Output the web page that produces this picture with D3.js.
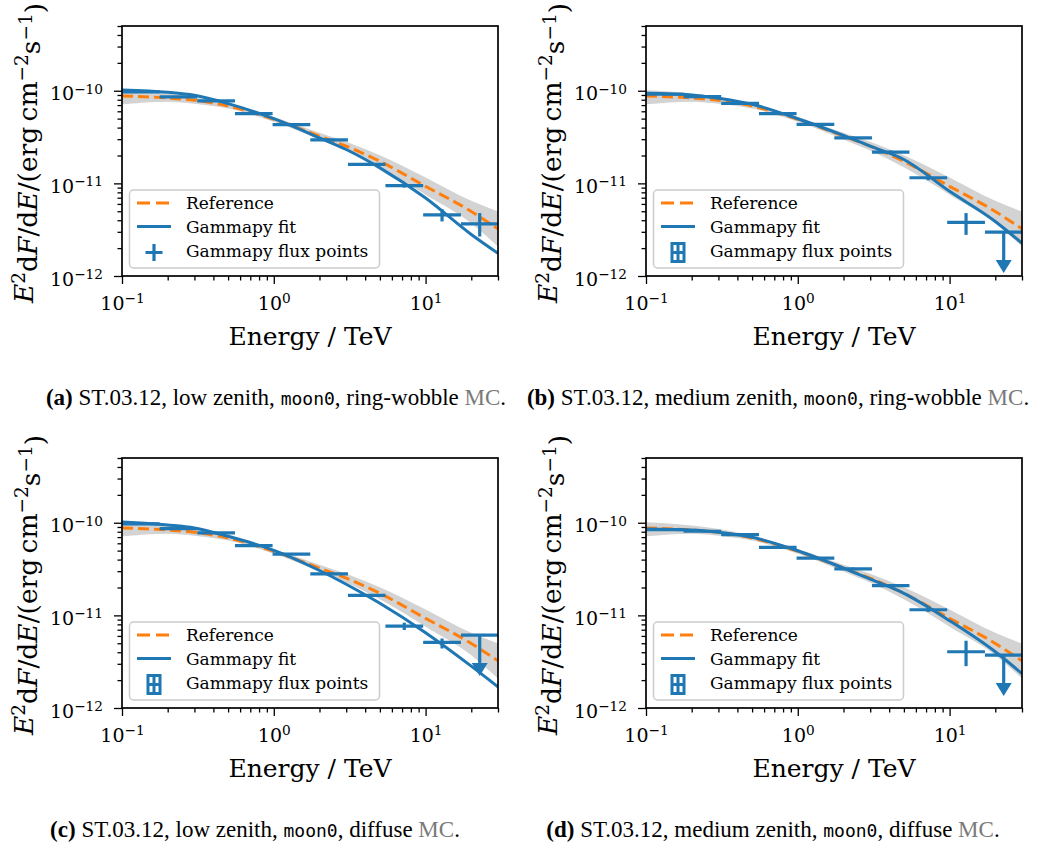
<!DOCTYPE html>
<html>
<head>
<meta charset="utf-8">
<script src="https://cdn.jsdelivr.net/npm/d3@7"></script>
<style>
  body { margin: 0; background: #fff; }
  svg text { font-family: "DejaVu Serif", serif; fill: #000; }
</style>
</head>
<body>
<div id="figure"></div>
<script>
const energyGrid = [0.1, 0.2, 0.3, 0.5, 1, 2, 3, 5, 10, 20, 30];

// Reference spectrum and its uncertainty band (same in every panel)
const referenceFlux   = [8.79e-11, 8.36e-11, 7.89e-11, 6.84e-11, 4.91e-11, 3.24e-11, 2.52e-11, 1.73e-11, 9.29e-12, 4.98e-12, 3.23e-12];
const referenceBandHi = [1.01e-10, 9.32e-11, 8.57e-11, 7.26e-11, 5.20e-11, 3.52e-11, 2.81e-11, 2.01e-11, 1.16e-11, 6.50e-12, 4.98e-12];
const referenceBandLo = [7.14e-11, 7.62e-11, 7.26e-11, 6.45e-11, 4.63e-11, 2.98e-11, 2.26e-11, 1.49e-11, 7.55e-12, 3.72e-12, 2.08e-12];

// Gammapy fits, one per panel
const fitFluxA = [1.02e-10, 9.63e-11, 8.93e-11, 7.26e-11, 4.99e-11, 3.10e-11, 2.32e-11, 1.47e-11, 6.95e-12, 2.81e-12, 1.76e-12];
const fitFluxB = [9.39e-11, 9.02e-11, 8.30e-11, 7.14e-11, 4.99e-11, 3.29e-11, 2.52e-11, 1.81e-11, 8.20e-12, 3.88e-12, 2.26e-12];
const fitFluxC = [1.02e-10, 9.46e-11, 8.79e-11, 7.14e-11, 5.03e-11, 3.05e-11, 2.17e-11, 1.35e-11, 6.50e-12, 2.83e-12, 1.69e-12];
const fitFluxD = [8.57e-11, 8.36e-11, 7.89e-11, 6.96e-11, 4.99e-11, 3.24e-11, 2.46e-11, 1.73e-11, 8.77e-12, 4.05e-12, 2.35e-12];

// Flux point energy bins (TeV)
const binEdges = [0.1, 0.177, 0.313, 0.555, 0.982, 1.74, 3.08, 5.44, 9.64, 17.1, 30.2];

// Flux points: value, lower and upper error ends, upper-limit flag
const pointsA = [9.71e-11, 8.57e-11, 7.76e-11, 5.65e-11, 4.30e-11, 2.95e-11, 1.60e-11, 9.45e-12, 4.58e-12, 3.66e-12];
const pointsALo = [9.5e-11, 8.4e-11, 7.6e-11, 5.5e-11, 4.2e-11, 2.87e-11, 1.54e-11, 9.0e-12, 3.88e-12, 2.67e-12];
const pointsAHi = [9.9e-11, 8.75e-11, 7.9e-11, 5.8e-11, 4.4e-11, 3.03e-11, 1.66e-11, 9.9e-12, 5.27e-12, 4.78e-12];
const pointsAUL = [false, false, false, false, false, false, false, false, false, false];

const pointsB = [9.16e-11, 8.65e-11, 7.32e-11, 5.65e-11, 4.33e-11, 3.10e-11, 2.17e-11, 1.15e-11, 3.79e-12, 2.97e-12];
const pointsBLo = [8.95e-11, 8.45e-11, 7.15e-11, 5.5e-11, 4.22e-11, 3.0e-11, 2.08e-11, 1.08e-11, 2.78e-12, null];
const pointsBHi = [9.38e-11, 8.85e-11, 7.5e-11, 5.8e-11, 4.44e-11, 3.2e-11, 2.26e-11, 1.22e-11, 4.78e-12, null];
const pointsBUL = [false, false, false, false, false, false, false, false, false, true];

const pointsC = [9.71e-11, 8.65e-11, 7.76e-11, 5.65e-11, 4.59e-11, 2.81e-11, 1.64e-11, 7.67e-12, 5.11e-12, 6.13e-12];
const pointsCLo = [9.5e-11, 8.45e-11, 7.6e-11, 5.5e-11, 4.48e-11, 2.73e-11, 1.58e-11, 6.95e-12, 4.39e-12, null];
const pointsCHi = [9.9e-11, 8.85e-11, 7.9e-11, 5.8e-11, 4.7e-11, 2.9e-11, 1.7e-11, 8.34e-12, 5.63e-12, null];
const pointsCUL = [false, false, false, false, false, false, false, false, false, true];

const pointsD = [8.43e-11, 8.09e-11, 7.45e-11, 5.42e-11, 4.16e-11, 3.18e-11, 2.10e-11, 1.15e-11, 4.05e-12, 3.72e-12];
const pointsDLo = [8.2e-11, 7.9e-11, 7.28e-11, 5.3e-11, 4.05e-11, 3.08e-11, 2.02e-11, 1.09e-11, 2.83e-12, null];
const pointsDHi = [8.7e-11, 8.3e-11, 7.62e-11, 5.55e-11, 4.27e-11, 3.28e-11, 2.18e-11, 1.21e-11, 5.32e-12, null];
const pointsDUL = [false, false, false, false, false, false, false, false, false, true];

// Captions
const panelTags = ["(a)", "(b)", "(c)", "(d)"];
const zenithNames = ["low", "medium", "low", "medium"];
const mcNames = ["ring-wobble", "ring-wobble", "diffuse", "diffuse"];
const legendLabels = ["Reference", "Gammapy fit", "Gammapy flux points"];

const panels = [
    { fit: fitFluxA, flux: pointsA, lo: pointsALo, hi: pointsAHi, ul: pointsAUL },
    { fit: fitFluxB, flux: pointsB, lo: pointsBLo, hi: pointsBHi, ul: pointsBUL },
    { fit: fitFluxC, flux: pointsC, lo: pointsCLo, hi: pointsCHi, ul: pointsCUL },
    { fit: fitFluxD, flux: pointsD, lo: pointsDLo, hi: pointsDHi, ul: pointsDUL }
];

///////////////////////////////////////////////////////////////
// Layout
///////////////////////////////////////////////////////////////
const width = 1041, height = 848;
const plotW = 376, plotH = 250;
const offsets = [[122, 26], [646, 26], [122, 458], [646, 458]];
const captionPos = [[276, 405], [778, 405], [255, 837], [773, 837]];
const blue = "#1f77b4", orange = "#ff7f0e";

const svg = d3.select("#figure")
    .append("svg")
    .attr("width", width)
    .attr("height", height);

const x = d3.scaleLog().domain([0.1, 30]).range([0, plotW]);
const y = d3.scaleLog().domain([1e-12, 5e-10]).range([plotH, 0]);

const isMajor = v => Math.abs(Math.log10(v) - Math.round(Math.log10(v))) < 1e-6;
const xMajor = x.ticks().filter(isMajor);
const xMinor = x.ticks().filter(v => !isMajor(v));
const yMajor = y.ticks().filter(isMajor);
const yMinor = y.ticks().filter(v => !isMajor(v));

// "10" with superscript exponent
function powerLabel(sel) {
    sel.each(function(d) {
        const t = d3.select(this);
        const e = Math.round(Math.log10(d));
        t.text(null);
        t.append("tspan").text("10");
        t.append("tspan")
            .attr("dy", "-0.48em")
            .attr("font-size", "0.72em")
            .text(e < 0 ? "\u2212" + (-e) : e);
    });
}

panels.forEach((p, i) => {
    const g = svg.append("g")
        .attr("transform", `translate(${offsets[i][0]},${offsets[i][1]})`);

    g.append("clipPath").attr("id", `clip-${i}`)
        .append("rect").attr("width", plotW).attr("height", plotH);

    const plot = g.append("g").attr("clip-path", `url(#clip-${i})`);

    // Reference band
    const band = d3.area()
        .x((d, k) => x(energyGrid[k]))
        .y0((d, k) => y(referenceBandLo[k]))
        .y1((d, k) => y(referenceBandHi[k]))
        .curve(d3.curveMonotoneX);

    plot.append("path")
        .attr("d", band(energyGrid))
        .attr("fill", "#d3d3d3");

    const line = d3.line()
        .x((d, k) => x(energyGrid[k]))
        .y(d => y(d))
        .curve(d3.curveMonotoneX);

    plot.append("path")
        .attr("d", line(referenceFlux))
        .attr("fill", "none")
        .attr("stroke", orange)
        .attr("stroke-width", 3)
        .attr("stroke-dasharray", "11,5");

    plot.append("path")
        .attr("d", line(p.fit))
        .attr("fill", "none")
        .attr("stroke", blue)
        .attr("stroke-width", 3);

    // Flux points
    const pts = p.flux.map((f, k) => ({
        e0: binEdges[k], e1: binEdges[k + 1],
        ec: Math.sqrt(binEdges[k] * binEdges[k + 1]),
        f, lo: p.lo[k], hi: p.hi[k], ul: p.ul[k]
    }));

    const pg = plot.selectAll("g.pt").data(pts).enter().append("g").attr("class", "pt");

    pg.append("line")
        .attr("x1", d => x(d.e0)).attr("x2", d => x(d.e1))
        .attr("y1", d => y(d.f)).attr("y2", d => y(d.f))
        .attr("stroke", blue).attr("stroke-width", 3.2);

    pg.filter(d => !d.ul).append("line")
        .attr("x1", d => x(d.ec)).attr("x2", d => x(d.ec))
        .attr("y1", d => y(d.lo)).attr("y2", d => y(d.hi))
        .attr("stroke", blue).attr("stroke-width", 3.2);

    // Upper limits: arrow down to half the limit
    const ulg = pg.filter(d => d.ul);
    ulg.append("line")
        .attr("x1", d => x(d.ec)).attr("x2", d => x(d.ec))
        .attr("y1", d => y(d.f)).attr("y2", d => y(d.f / 2))
        .attr("stroke", blue).attr("stroke-width", 3.2);
    ulg.append("path")
        .attr("d", d => {
            const cx = x(d.ec), cy = y(d.f / 2);
            return `M${cx - 8},${cy} L${cx + 8},${cy} L${cx},${cy + 13} Z`;
        })
        .attr("fill", blue);

    // Axes
    const xg = g.append("g").attr("transform", `translate(0,${plotH})`);
    xg.append("g")
        .call(d3.axisBottom(x).tickValues(xMinor).tickSize(4.5).tickFormat(""));
    xg.append("g")
        .call(d3.axisBottom(x).tickValues(xMajor).tickSize(8).tickFormat(d => d))
        .selectAll("text")
        .attr("y", 34).attr("dy", 0)
        .style("font-size", "19px")
        .call(powerLabel);

    const yg = g.append("g");
    yg.append("g")
        .call(d3.axisLeft(y).tickValues(yMinor).tickSize(4.5).tickFormat(""));
    yg.append("g")
        .call(d3.axisLeft(y).tickValues(yMajor).tickSize(8).tickFormat(d => d))
        .selectAll("text")
        .attr("x", -19).attr("dy", 9)
        .style("font-size", "19px")
        .call(powerLabel);

    g.selectAll(".domain").remove();
    g.selectAll(".tick line").attr("stroke", "#000").attr("stroke-width", 1.3);
    g.selectAll(".tick text").attr("fill", "#000").attr("font-family", "DejaVu Serif");

    g.append("rect")
        .attr("width", plotW).attr("height", plotH)
        .attr("fill", "none").attr("stroke", "#000").attr("stroke-width", 1.7);

    // Legend
    const lg = g.append("g").attr("transform", "translate(7.5,164)");
    lg.append("rect")
        .attr("width", 250).attr("height", 78).attr("rx", 4)
        .attr("fill", "#fff").attr("fill-opacity", 0.8)
        .attr("stroke", "#cccccc").attr("stroke-width", 1.5);

    lg.append("line")
        .attr("x1", 7.5).attr("x2", 41.5).attr("y1", 13).attr("y2", 13)
        .attr("stroke", orange).attr("stroke-width", 3).attr("stroke-dasharray", "13,6");
    lg.append("line")
        .attr("x1", 7.5).attr("x2", 41.5).attr("y1", 36.5).attr("y2", 36.5)
        .attr("stroke", blue).attr("stroke-width", 3);

    const mx = 24.5, my = 62.5;
    if (i === 0) {
        lg.append("path")
            .attr("d", `M${mx - 8.5},${my} H${mx + 8.5} M${mx},${my - 8.5} V${my + 8.5}`)
            .attr("stroke", blue).attr("stroke-width", 3.2);
    } else {
        lg.append("rect")
            .attr("x", mx - 6).attr("y", my - 9).attr("width", 12).attr("height", 18)
            .attr("fill", "none").attr("stroke", blue).attr("stroke-width", 3);
        lg.append("path")
            .attr("d", `M${mx - 6},${my} H${mx + 6} M${mx},${my - 9} V${my + 9}`)
            .attr("stroke", blue).attr("stroke-width", 3);
    }

    lg.selectAll("text.leg")
        .data(legendLabels)
        .enter().append("text")
        .attr("class", "leg")
        .attr("x", 56.5)
        .attr("y", (d, k) => 19 + k * 24)
        .style("font-size", "17px")
        .text(d => d);

    // Axis labels
    g.append("text")
        .attr("x", plotW / 2).attr("y", 319)
        .attr("text-anchor", "middle")
        .style("font-size", "25px")
        .text("Energy / TeV");

    const yl = g.append("text")
        .attr("transform", `translate(-89,${plotH / 2 + 2}) rotate(-90)`)
        .attr("text-anchor", "middle")
        .style("font-size", "26.5px");
    yl.append("tspan").attr("font-style", "italic").text("E");
    yl.append("tspan").attr("dy", "-0.45em").attr("font-size", "0.7em").text("2");
    yl.append("tspan").attr("dy", "0.45em").text("d");
    yl.append("tspan").attr("font-style", "italic").text("F");
    yl.append("tspan").text("/d");
    yl.append("tspan").attr("font-style", "italic").text("E");
    yl.append("tspan").text("/(erg\u2009cm");
    yl.append("tspan").attr("dy", "-0.45em").attr("font-size", "0.7em").text("\u22122");
    yl.append("tspan").attr("dy", "0.45em").text("s");
    yl.append("tspan").attr("dy", "-0.45em").attr("font-size", "0.7em").text("\u22121");
    yl.append("tspan").attr("dy", "0.45em").text(")");
});

// Sub-figure captions
panelTags.forEach((tag, i) => {
    const t = svg.append("text")
        .attr("x", captionPos[i][0]).attr("y", captionPos[i][1])
        .attr("text-anchor", "middle")
        .style("font-family", "'Liberation Serif', serif")
        .style("font-size", "23px");
    t.append("tspan").attr("font-weight", "bold").text(tag);
    t.append("tspan").text(` ST.03.12, ${zenithNames[i]} zenith, `);
    t.append("tspan").style("font-family", "'DejaVu Sans Mono', monospace").style("font-size", "18px").text("moon0");
    t.append("tspan").text(`, ${mcNames[i]} `);
    t.append("tspan").style("fill", "#7a7a7a").text("MC");
    t.append("tspan").text(".");
});
</script>
</body>
</html>
